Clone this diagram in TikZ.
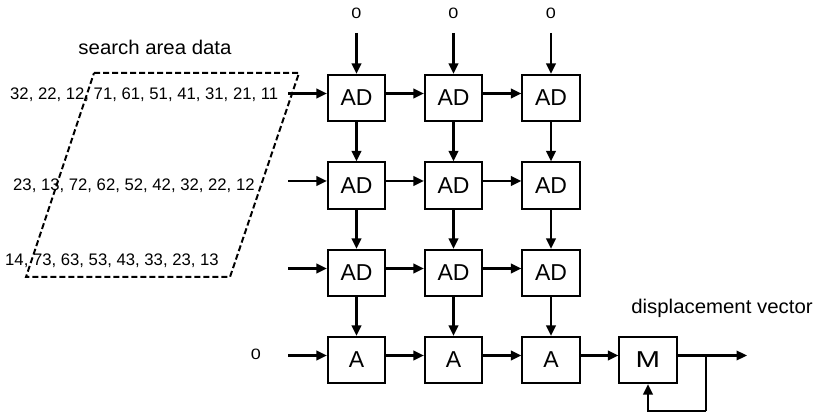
\documentclass[tikz,border=0pt]{standalone}
\usepackage{fontspec}
\setmainfont{Liberation Sans}
\newfontfamily\widesans{Liberation Sans}[FakeStretch=1.2]
\newfontfamily\capsans{Liberation Sans}[FakeStretch=1.03]
\newfontfamily\mfont{Liberation Sans}[FakeStretch=1.28]
\usetikzlibrary{arrows.meta}

\begin{document}
\begin{tikzpicture}[x=1pt,y=-1pt,
  cell/.style={draw,line width=1.6pt,minimum width=57.5pt,minimum height=46.5pt,
    inner sep=0pt,font=\fontsize{23}{26}\selectfont},
  flow/.style={line width=2.3pt,-{Triangle[length=10.5pt,width=9.5pt]}},
  seq/.style={anchor=base west,inner sep=0pt,font=\fontsize{16.7}{20}\selectfont},
  caption/.style={anchor=base,inner sep=0pt,font=\capsans\fontsize{19.8}{22}\selectfont},
  zero/.style={anchor=base,inner sep=0pt,font=\widesans\fontsize{15}{17}\selectfont},
]
\useasboundingbox (0,0) rectangle (815,414);

% search area data streams
\node[caption] (sad) at (155,55) {search area data};
\node[seq] (r1) at (10,99.5) {32, 22, 12, 71, 61, 51, 41, 31, 21, 11};
\node[seq] (r2) at (13,190.5) {23, 13, 72, 62, 52, 42, 32, 22, 12};
\node[seq] (r3) at (5,265.5) {14, 73, 63, 53, 43, 33, 23, 13};
\draw[line width=2pt,dash pattern=on 6pt off 3pt]
  (94,73) -- (299,73) -- (230,277) -- (26,277) -- cycle;

% processing array
\foreach \c/\x in {1/356.5,2/453.5,3/551}{
  \node[cell] (b1\c) at (\x,98) {AD};
  \node[cell] (b2\c) at (\x,185.5) {AD};
  \node[cell] (b3\c) at (\x,273) {AD};
  \node[cell] (b4\c) at (\x,360) {A};
  \node[zero] (z\c) at (\x,18.5) {0};
  \draw[flow] ([yshift=-14.5pt]z\c.base) -- (b1\c.north);
  \draw[flow] (b1\c.south) -- (b2\c.north);
  \draw[flow] (b2\c.south) -- (b3\c.north);
  \draw[flow] (b3\c.south) -- (b4\c.north);
}
\node[cell,font=\mfont\fontsize{23}{26}\selectfont] (m) at (648,360) {M};

% row inputs
\node[zero] (z0) at (256,360) {0};
\coordinate (in1) at (288,93.5);
\coordinate (in2) at (288,181);
\coordinate (in3) at (288,268.5);
\coordinate (in4) at (288,355.5);
\foreach \r in {1,2,3,4}{
  \draw[flow] (in\r) -- ([yshift=4.5pt]b\r1.west);
  \draw[flow] ([yshift=4.5pt]b\r1.east) -- ([yshift=4.5pt]b\r2.west);
  \draw[flow] ([yshift=4.5pt]b\r2.east) -- ([yshift=4.5pt]b\r3.west);
}
\draw[flow] ([yshift=4.5pt]b43.east) -- ([yshift=4.5pt]m.west);

% minimum output and feedback
\node[caption] (dv) at (722,314) {displacement vector};
\coordinate (out) at (747,355.5);
\coordinate (tap) at (706,355.5);
\coordinate (corner) at (706,411);
\draw[flow] ([yshift=4.5pt]m.east) -- (out);
\draw[line width=1.2pt] (tap) -- (corner);
\draw[flow] (corner) -| (m.south);
\end{tikzpicture}
\end{document}
